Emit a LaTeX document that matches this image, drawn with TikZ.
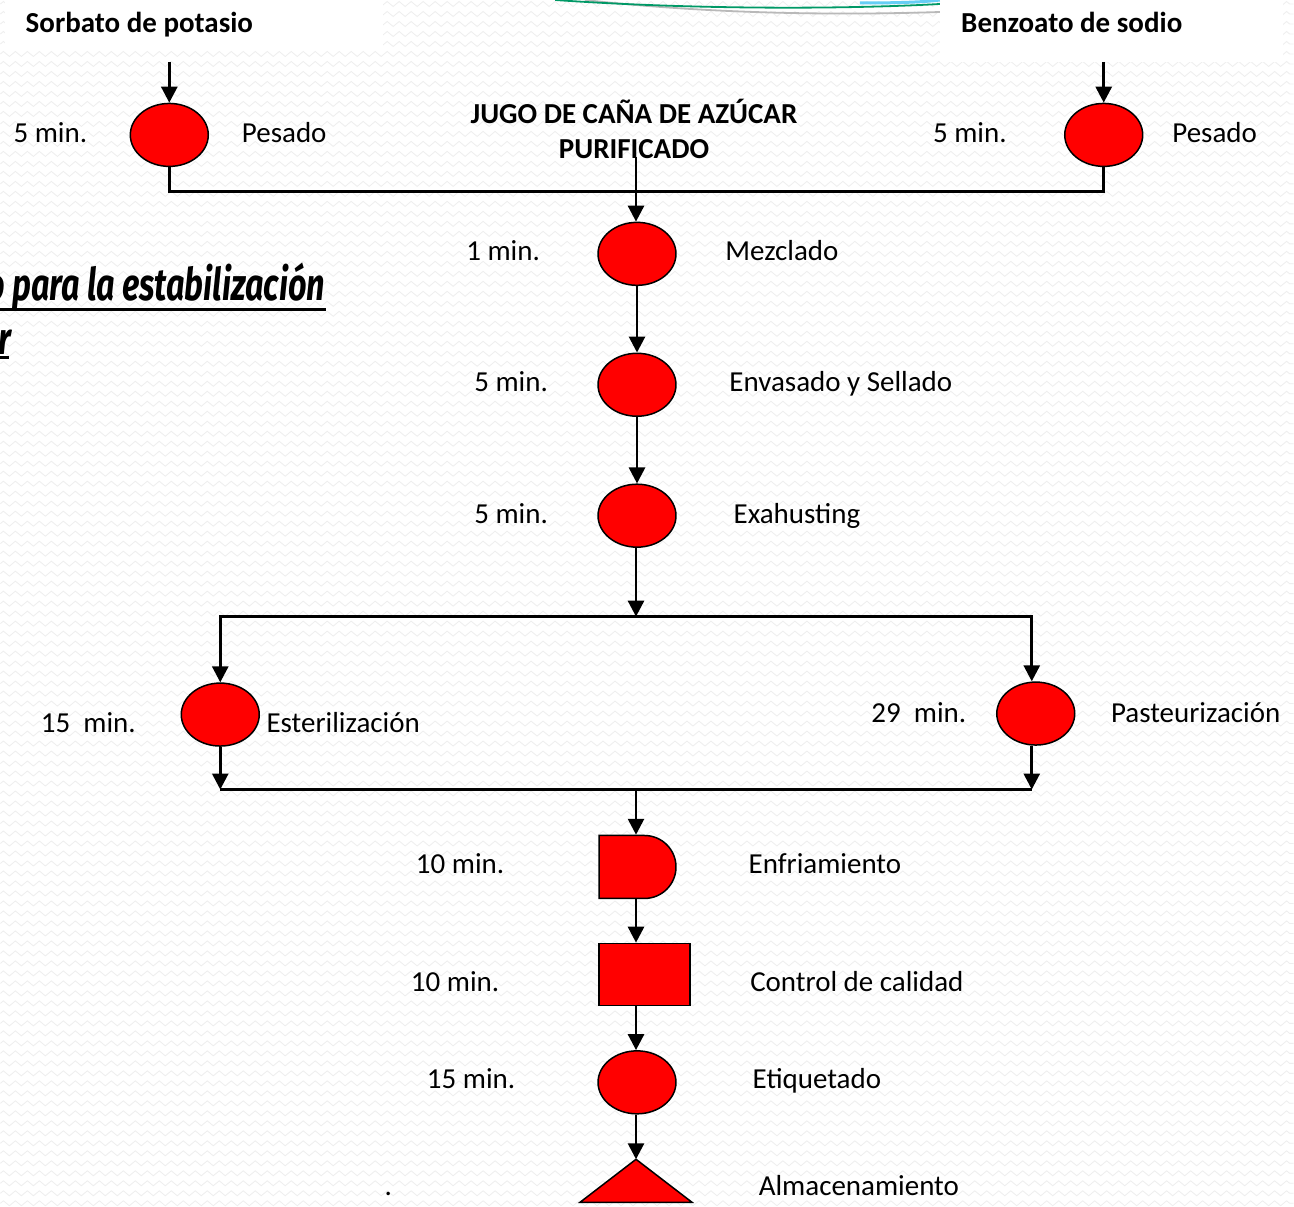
\documentclass[tikz,border=0pt]{standalone}
\usepackage{fontspec}
\setmainfont{Carlito}
\newfontfamily\titlefont[FakeStretch=0.72]{Fira Sans}
\usetikzlibrary{arrows.meta,shapes.geometric,shapes.misc,decorations.pathmorphing}
\begin{document}
\begin{tikzpicture}[x=1pt,y=-1pt,
 lbl/.style={font=\fontsize{29}{34}\selectfont, inner sep=0pt, text height=26pt, text depth=7pt},
 head/.style={font=\fontsize{29}{34}\selectfont\bfseries, inner sep=0pt},
 proc/.style={ellipse, draw=black, line width=1.5pt, fill=red, minimum width=78pt, minimum height=63pt, inner sep=0pt},
 conn/.style={line width=2.8pt, draw=black},
 arr/.style={conn, -{Triangle[width=16pt,length=16pt]}},
 zz/.style={draw=gray!13, line width=0.8pt, decorate, decoration={zigzag, segment length=12pt, amplitude=2.5pt}},
 ttl/.style={font=\titlefont\fontsize{45}{48}\selectfont\bfseries\itshape, inner sep=0pt},
]
% background
\fill[white] (0,0) rectangle (1294,1205);
\foreach \yy in {4,14,...,1204} \draw[zz] (0,\yy) -- (1294,\yy);
\useasboundingbox (0,0) rectangle (1294,1205);
\fill[white] (5,0) rectangle (383,50);
\fill[white] (940,0) rectangle (1283,62);
% decorative curves at top
\draw[gray!55, line width=1.8pt] (585,0) .. controls (720,15) and (850,15) .. (940,12);
\draw[teal!80!green, line width=1.8pt] (555,0) .. controls (700,10) and (850,9) .. (940,4);
\draw[cyan!60, line width=3pt] (860,3) .. controls (900,3) and (925,2) .. (940,0);

% title fragments
\node[ttl, anchor=base east] (tt1) at (325,301) {o para la estabilización};
\draw[line width=3pt] (0,310) -- (326,310);
\node[ttl, anchor=base east] (tt2) at (11,355) {r};
\draw[line width=3pt] (0,358) -- (9,358);

% headings
\node[head, text height=26pt, text depth=7pt] (sorb) at (139,23) {Sorbato de potasio};
\node[head, text height=26pt, text depth=7pt] (benz) at (1072,23) {Benzoato de sodio};
\node[head, align=center, font=\fontsize{29}{35}\selectfont\bfseries] (jugo) at (634,129) {JUGO DE CAÑA DE AZÚCAR\\PURIFICADO};

% process shapes
\node[proc] (pl) at (169,135) {};
\node[proc] (pr) at (1104,135) {};
\node[proc] (mez) at (637,254) {};
\node[proc] (env) at (637,385) {};
\node[proc] (exa) at (637,516) {};
\node[proc] (est) at (220,715) {};
\node[proc] (pas) at (1036,714) {};
\node[rounded rectangle, rounded rectangle west arc=none, draw=black, line width=1.5pt, fill=red, minimum width=77pt, minimum height=63pt, inner sep=0pt] (enf) at (637.5,867.5) {};
\node[rectangle, draw=black, line width=1.5pt, fill=red, minimum width=91pt, minimum height=62pt, inner sep=0pt] (cal) at (644.5,975) {};
\node[proc] (eti) at (637,1083) {};
\coordinate (alm) at (636,1160);
\draw[line width=1.5pt, fill=red] (alm) -- ++(-56,43) -- ++(112,0) -- cycle;

% labels
\node[lbl] (t1) at (50,133) {5 min.};
\node[lbl] (p1) at (284,133) {Pesado};
\node[lbl] (t2) at (970,133) {5 min.};
\node[lbl] (p2) at (1215,133) {Pesado};
\node[lbl] (t3) at (503,251) {1 min.};
\node[lbl] (p3) at (782,251) {Mezclado};
\node[lbl] (t4) at (511,382) {5 min.};
\node[lbl] (p4) at (841,382) {Envasado y Sellado};
\node[lbl] (t5) at (511,514) {5 min.};
\node[lbl] (p5) at (797,514) {Exahusting};
\node[lbl] (t6) at (88,723) {15\ \ min.};
\node[lbl] (p6) at (343,723) {Esterilización};
\node[lbl] (t7) at (919,713) {29\ \ min.};
\node[lbl] (p7) at (1196,713) {Pasteurización};
\node[lbl] (t8) at (460,865) {10 min.};
\node[lbl] (p8) at (825,865) {Enfriamiento};
\node[lbl] (t9) at (455,983) {10 min.};
\node[lbl] (p9) at (857,983) {Control de calidad};
\node[lbl] (t10) at (471,1080) {15 min.};
\node[lbl] (p10) at (817,1080) {Etiquetado};
\node[lbl] (dot) at (388,1187) {.};
\node[lbl] (p11) at (859,1187) {Almacenamiento};

% connectors
\coordinate (s0) at (169,62);
\coordinate (b0) at (1104,62);
\coordinate (j0) at (636,157);
\coordinate (j1) at (636,192);
\coordinate (j2) at (636,617);
\coordinate (m1) at (220,790);
\coordinate (m2) at (1032,790);
\coordinate (j3) at (636,790);
\draw[arr] (s0) -- (pl);
\draw[arr] (b0) -- (pr);
\draw[conn] (pl.south) |- (j1) -| (pr.south);
\draw[arr] (j0) -- (mez.north -| j0);
\draw[arr] (mez) -- (env);
\draw[arr] (env) -- (exa);
\draw[arr] (exa.south -| j2) -- (j2);
\draw[arr] (j2) -| (est.north);
\draw[arr] (j2) -| (pas.north -| m2);
\draw[arr] (est) -- (m1);
\draw[arr] (pas.south -| m2) -- (m2);
\draw[conn] (m1) -- (m2);
\draw[arr] (j3) -- (enf.north -| j3);
\draw[arr] (enf.south -| j3) -- (cal.north -| j3);
\draw[arr] (cal.south -| j3) -- (eti.north -| j3);
\draw[arr] (eti.south -| j3) -- (alm);
\end{tikzpicture}
\end{document}
